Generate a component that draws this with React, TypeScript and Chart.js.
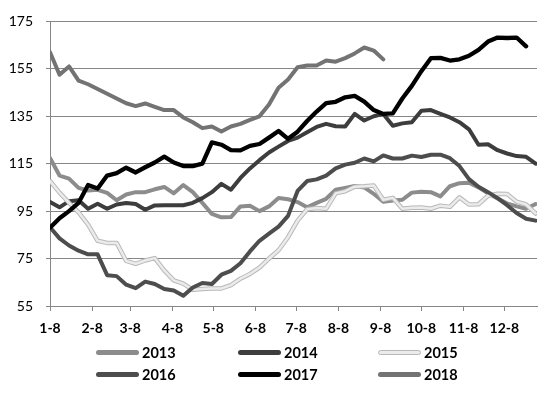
import React, { useEffect, useRef } from "react";
import { Chart, registerables } from "chart.js";

Chart.register(...registerables);

// day offsets from 8 January for each weekly observation
const WEEK_DAYS = [
  0, 7, 14, 21, 28, 35, 42, 49, 56, 63, 70, 77, 84, 91, 98, 105, 112, 119, 126, 133,
  140, 147, 154, 161, 168, 175, 182, 189, 196, 203, 210, 217, 224, 231, 238, 245,
  252, 259, 266, 273, 280, 287, 294, 301, 308, 315, 322, 329, 336, 343, 350, 357,
];
const MONTH_TICK_DAYS = [0, 31, 59, 90, 120, 151, 181, 212, 243, 273, 304, 334];
const MONTH_LABELS = ["1-8", "2-8", "3-8", "4-8", "5-8", "6-8", "7-8", "8-8", "9-8", "10-8", "11-8", "12-8"];

const Y2013 = [
  117.4, 110, 108.7, 104.8, 103.7, 104, 102.7, 99.6, 102, 103, 103, 104.2, 105.2, 102.5, 106, 103,
  98.5, 93.8, 92.4, 92.5, 97, 97.3, 95, 97, 100.5, 100, 98.8, 96.6, 98.5, 100.2, 104, 104.8, 105.6,
  105, 102.3, 99, 99.5, 99.8, 102.8, 103.2, 103, 101.2, 105.5, 106.8, 107, 105, 102.5, 100.3, 98.3,
  97, 96, 98,
];
const Y2014 = [
  98.9, 96.6, 99.2, 99.6, 96, 98.1, 96, 97.8, 98.4, 98, 95.6, 97.4, 97.5, 97.5, 97.5, 98.5, 100.5,
  103, 106.5, 104, 109, 113, 116.5, 119.7, 122.2, 124.6, 126, 128.3, 130.5, 131.8, 130.8, 130.7, 136,
  133.2, 135, 136, 131, 132, 132.5, 137.3, 137.6, 136, 134.5, 132.5, 129.5, 123, 123.2, 120.7, 119.3,
  118.2, 117.9, 115,
];
const Y2015 = [
  107.7, 102.8, 98.5, 94.5, 89.3, 82.5, 81.6, 81.6, 74, 72.8, 74.2, 75.2, 70, 65.8, 64.4, 61.8, 62.2,
  62.4, 62.4, 63.8, 66.5, 68.5, 71.2, 75, 78.5, 84, 91, 95.8, 96.3, 96, 102.5, 103.4, 105.3, 105.5,
  105.8, 99.8, 100.6, 96, 96.4, 96.5, 96, 97.3, 96.8, 100.8, 97.8, 97.9, 101.5, 102.3, 102.2, 99, 97.8,
  94,
];
const Y2016 = [
  88.2, 83.5, 80.5, 78.3, 76.8, 76.8, 68, 67.6, 64, 62.5, 65.3, 64.3, 62.2, 61.5, 59.3, 62.8, 64.7,
  64.3, 68.2, 69.8, 73, 78, 82.5, 85.5, 88.5, 93, 103.5, 107.7, 108.4, 110, 113, 114.6, 115.4, 117.2,
  116, 118.5, 117.2, 117.2, 118.4, 117.8, 118.8, 118.8, 117.3, 114, 108.5, 105.3, 103, 100.5, 97.5,
  94.2, 91.8, 91,
];
const Y2017 = [
  88, 92, 95, 98.5, 106, 104.5, 110, 111, 113.3, 111.3, 113.5, 115.5, 118, 115.5, 114, 114, 115, 124,
  123, 120.7, 120.6, 122.5, 123.3, 126, 128.8, 125.5, 128.5, 133, 137, 140.5, 141.1, 143, 143.6, 141.2,
  137.6, 136, 136.2, 142.5, 147.8, 154, 159.5, 159.6, 158.5, 159, 160.5, 163, 166.5, 168.2, 168, 168.2,
  164.5,
];
const Y2018 = [
  162, 152.5, 156, 150, 148.5, 146.5, 144.5, 142.5, 140.5, 139.3, 140.4, 139, 137.6, 137.6, 134.5,
  132.5, 130, 130.7, 128.6, 130.7, 131.8, 133.5, 135, 140, 147, 150.5, 155.7, 156.4, 156.4, 158.5, 158,
  159.5, 161.5, 164, 162.7, 159,
];

const SERIES = [
  { label: "2013", values: Y2013, color: "#8c8c8c" },
  { label: "2014", values: Y2014, color: "#3d3d3d" },
  { label: "2015", values: Y2015, color: "#ebebeb", outline: "#b8b8b8" },
  { label: "2016", values: Y2016, color: "#4d4d4d" },
  { label: "2017", values: Y2017, color: "#000000" },
  { label: "2018", values: Y2018, color: "#737373" },
];

const GRID = "#878787";
const FONT = "Lato, 'DejaVu Sans', sans-serif";

function toPoints(values: number[]) {
  return values.map((v, i) => ({ x: WEEK_DAYS[i], y: v }));
}

export default function App() {
  const ref = useRef<HTMLCanvasElement | null>(null);

  useEffect(() => {
    if (!ref.current) return;
    const datasets: any[] = [];
    const n = SERIES.length;
    SERIES.forEach((s, idx) => {
      const base = {
        data: toPoints(s.values),
        pointRadius: 0,
        tension: 0,
        borderJoinStyle: "round",
        borderCapStyle: "round",
        fill: false,
      };
      if (s.outline) {
        datasets.push({
          ...base,
          label: s.label + "-outline",
          borderColor: s.outline,
          borderWidth: 4.5,
          order: (n - idx) * 2 + 1,
        });
        datasets.push({
          ...base,
          label: s.label,
          borderColor: s.color,
          borderWidth: 2.5,
          order: (n - idx) * 2,
        });
      } else {
        datasets.push({
          ...base,
          label: s.label,
          borderColor: s.color,
          borderWidth: s.label === "2017" ? 4.3 : 4,
          order: (n - idx) * 2,
        });
      }
    });

    const chart = new Chart(ref.current, {
      type: "line",
      data: { datasets },
      options: {
        animation: false,
        responsive: false,
        maintainAspectRatio: false,
        layout: { padding: { top: 19, right: 14, left: 0, bottom: 0 } },
        plugins: { legend: { display: false }, tooltip: { enabled: false } },
        scales: {
          x: {
            type: "linear",
            min: 0,
            max: 358,
            afterFit: (s: any) => {
              s.height = 87;
            },
            afterBuildTicks: (s: any) => {
              s.ticks = MONTH_TICK_DAYS.map((v) => ({ value: v }));
            },
            grid: {
              drawOnChartArea: false,
              drawTicks: true,
              tickLength: 5,
              color: GRID,
              lineWidth: 1,
            },
            border: { display: true, color: GRID, width: 1 },
            ticks: {
              autoSkip: false,
              maxRotation: 0,
              minRotation: 0,
              padding: 9,
              color: "#000",
              font: { family: FONT, size: 14, weight: "bold" },
              callback: (_v: any, i: number) => MONTH_LABELS[i],
            },
          },
          y: {
            min: 55,
            max: 175,
            afterFit: (s: any) => {
              s.width = 50;
            },
            grid: { color: GRID, lineWidth: 1, tickLength: 4, drawTicks: true },
            border: { display: true, color: GRID, width: 1 },
            ticks: {
              stepSize: 20,
              padding: 13,
              color: "#000",
              font: { family: FONT, size: 14 },
            },
          },
        },
      },
    });
    return () => chart.destroy();
  }, []);

  const cols = [96, 238, 378];
  const rows = [352.7, 374.7];

  return (
    <div style={{ position: "absolute", left: 0, top: 0, width: 551, height: 393, background: "#fff" }}>
      <canvas ref={ref} width={551} height={393} style={{ position: "absolute", left: 0, top: 0 }} />
      {SERIES.map((s, i) => {
        const left = cols[i % 3];
        const cy = rows[Math.floor(i / 3)];
        return (
          <div key={s.label}>
            <div
              style={{
                position: "absolute",
                left,
                top: cy - 2.5,
                width: 43,
                height: 5,
                borderRadius: 2.5,
                boxSizing: "border-box",
                background: s.color,
                border: s.outline ? `1px solid ${s.outline}` : "none",
              }}
            />
            <div
              style={{
                position: "absolute",
                left: left + 46,
                top: cy - 9,
                height: 18,
                lineHeight: "18px",
                fontFamily: FONT,
                fontWeight: "bold",
                fontSize: 14.5,
                color: "#000",
              }}
            >
              {s.label}
            </div>
          </div>
        );
      })}
    </div>
  );
}
